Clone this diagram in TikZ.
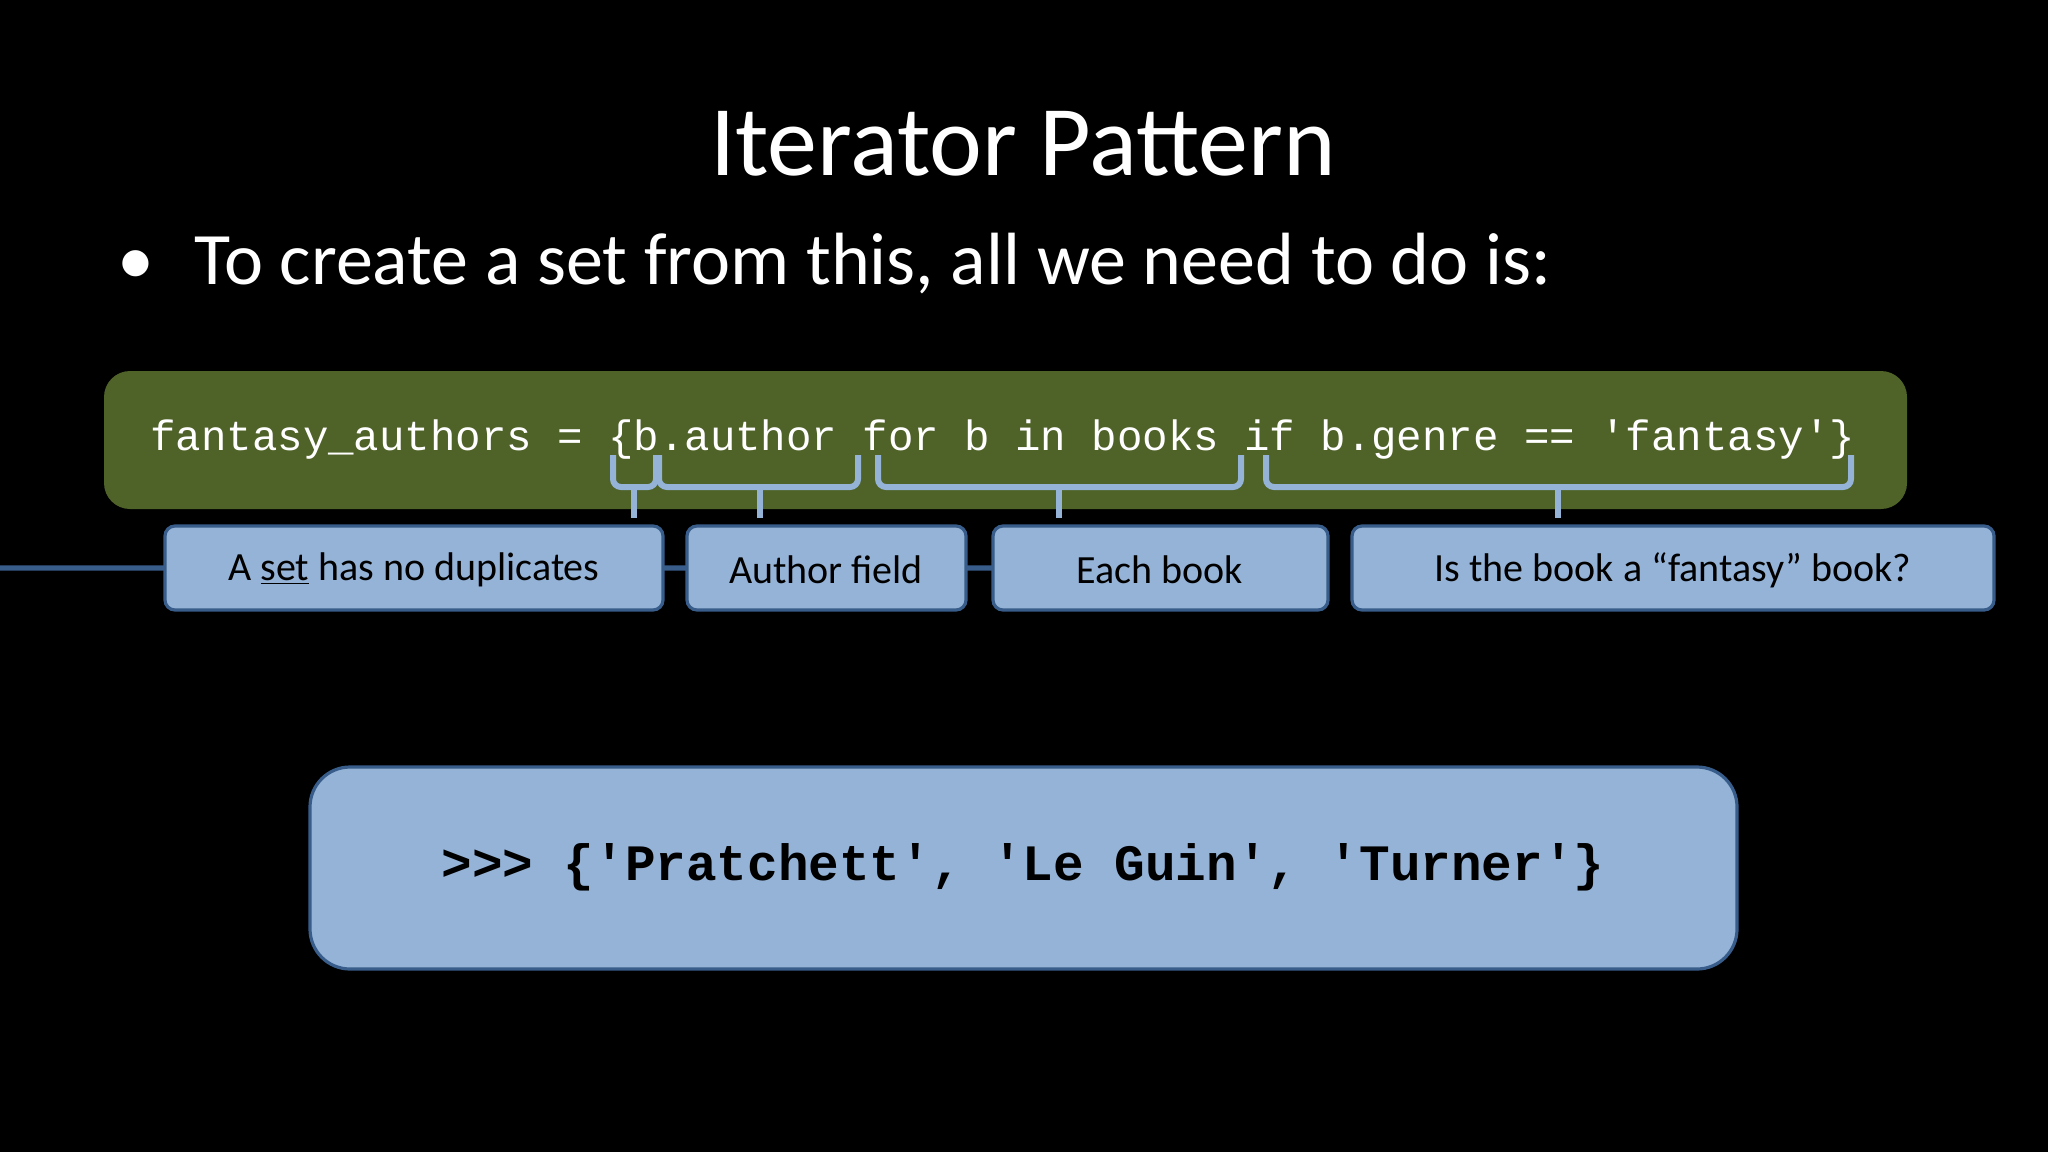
\documentclass[tikz,border=0pt]{standalone}
\usepackage{fontspec}
\setmainfont{Carlito}
\setmonofont{Liberation Mono}
\begin{document}
\begin{tikzpicture}[x=0.5pt,y=-0.5pt,
  lbl/.style={draw=lblborder,line width=1.6pt,fill=lblfill,rounded corners=5pt,font=\fontsize{20}{24}\selectfont,inner sep=0pt},
  brc/.style={draw=brcol,line width=3pt,rounded corners=4pt}]
\definecolor{lblfill}{HTML}{95B3D7}
\definecolor{lblborder}{HTML}{385D8A}
\definecolor{brcol}{HTML}{95B3D7}
\definecolor{codegreen}{HTML}{4F6228}
\fill[black] (0,0) rectangle (2048,1152);
\useasboundingbox (0,0) rectangle (2048,1152);
\node[white,font=\fontsize{50}{60}\selectfont] (title) at (1023,144) {Iterator Pattern};
\node[white,font=\fontsize{37}{44}\selectfont,anchor=west] (bullet) at (110,264) {•\hspace{0.55em}To create a set from this, all we need to do is:};
\fill[codegreen,rounded corners=13pt] (104,371) rectangle (1907,509);
\node[white,font=\fontsize{21.2}{25}\selectfont\ttfamily,anchor=west,inner sep=0pt] (code) at (150,440) {fantasy\_authors = \{b.author for b in books if b.genre == 'fantasy'\}};
% braces
\foreach \a/\b/\t/\n in {613/656/634/1,659/858/760/2,878/1241/1059/3,1266/1851/1558/4}{
  \draw[brc] (\a,455) -- (\a,487) -- (\b,487) -- (\b,455);
  \coordinate (t\n) at (\t,518);
  \draw[draw=brcol,line width=3pt] (\t,487) -- (t\n);
}
\node[lbl,minimum width=498\pgflinewidth] (b1) at (414,568) {};
\path[lbl] (165,526) rectangle (663,610);
\path[lbl] (687,526) rectangle (966,610);
\path[lbl] (993,526) rectangle (1328,610);
\path[lbl] (1352,526) rectangle (1994,610);
\node[font=\fontsize{20}{24}\selectfont] (l1) at (414,570) {A \underline{set} has no duplicates};
\node[font=\fontsize{20}{24}\selectfont] (l2) at (826,570) {Author field};
\node[font=\fontsize{20}{24}\selectfont] (l3) at (1160,570) {Each book};
\node[font=\fontsize{20}{24}\selectfont] (l4) at (1673,570) {Is the book a “fantasy” book?};
\path[draw=lblborder,line width=1.6pt,fill=lblfill,rounded corners=20pt] (310,767) rectangle (1737,969);
\node[font=\fontsize{25.5}{30}\selectfont\ttfamily\bfseries] (out) at (1023,867) {>{}>{}> \{'Pratchett', 'Le Guin', 'Turner'\}};
\end{tikzpicture}
\end{document}
